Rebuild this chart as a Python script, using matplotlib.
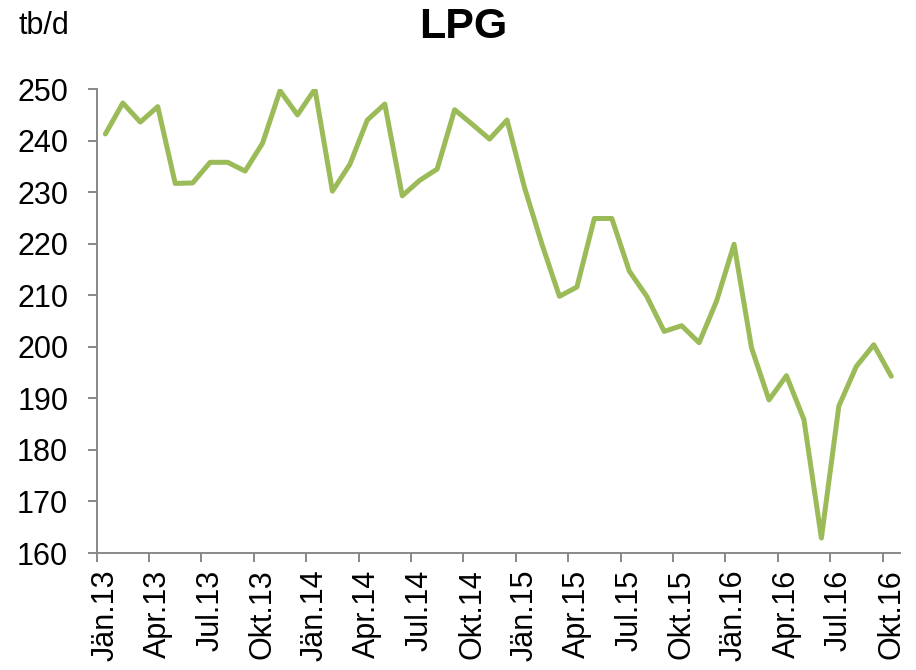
import matplotlib
matplotlib.use("Agg")
import matplotlib.pyplot as plt
import numpy as np

plt.rcParams['font.family'] = ['Liberation Sans', 'DejaVu Sans']

# monthly values, Jan 2013 - Oct 2016
values = [241.3, 247.3, 243.6, 246.6, 231.7, 231.8, 235.8, 235.8, 234.1, 239.5,
          249.7, 245.0, 250.0, 230.2, 235.4, 244.0, 247.1, 229.3, 232.3, 234.5,
          246.0, 243.2, 240.3, 244.0, 230.9, 219.9, 209.8, 211.6, 224.9, 224.9,
          214.7, 209.8, 203.0, 204.1, 200.8, 208.9, 219.9, 199.8, 189.7, 194.4,
          185.9, 162.9, 188.5, 196.2, 200.4, 194.3]
tick_labels = ["Jän.13", "Apr.13", "Jul.13", "Okt.13",
               "Jän.14", "Apr.14", "Jul.14", "Okt.14",
               "Jän.15", "Apr.15", "Jul.15", "Okt.15",
               "Jän.16", "Apr.16", "Jul.16", "Okt.16"]
y_ticks = [160, 170, 180, 190, 200, 210, 220, 230, 240, 250]

fig = plt.figure(figsize=(9.16, 6.70), dpi=100)
ax = fig.add_axes([0.1055, 0.1746, 0.877, 0.6924])

x = np.arange(len(values))
ax.plot(x, values, color="#9BBB59", linewidth=3.6, solid_joinstyle="round", solid_capstyle="round")

ax.set_xlim(-0.5, len(values) - 0.5)
ax.set_ylim(160, 250)

# ticks between categories, labels at category centres
ax.set_xticks(np.arange(-0.5, len(values) - 1, 3))
ax.set_xticklabels([])
ax.set_xticks(np.arange(0, len(values), 3), minor=True)
ax.set_xticklabels(tick_labels, minor=True, rotation=90, fontsize=22)
ax.tick_params(axis="x", which="major", length=6.5, width=1.4, color="#888888", direction="out")
ax.tick_params(axis="x", which="minor", length=0, pad=12)

ax.set_yticks(y_ticks)
ax.set_yticklabels([str(v) for v in y_ticks], fontsize=22)
ax.tick_params(axis="y", length=6.5, width=1.4, color="#888888", direction="out", pad=14)

for s in ["top", "right"]:
    ax.spines[s].set_visible(False)
for s in ["left", "bottom"]:
    ax.spines[s].set_color("#888888")
    ax.spines[s].set_linewidth(1.4)

fig.text(0.506, 0.99, "LPG", ha="center", va="top", fontsize=31, fontweight="bold")
fig.text(0.02, 0.983, "tb/d", ha="left", va="top", fontsize=22)

fig.savefig("out.png", dpi=100)
